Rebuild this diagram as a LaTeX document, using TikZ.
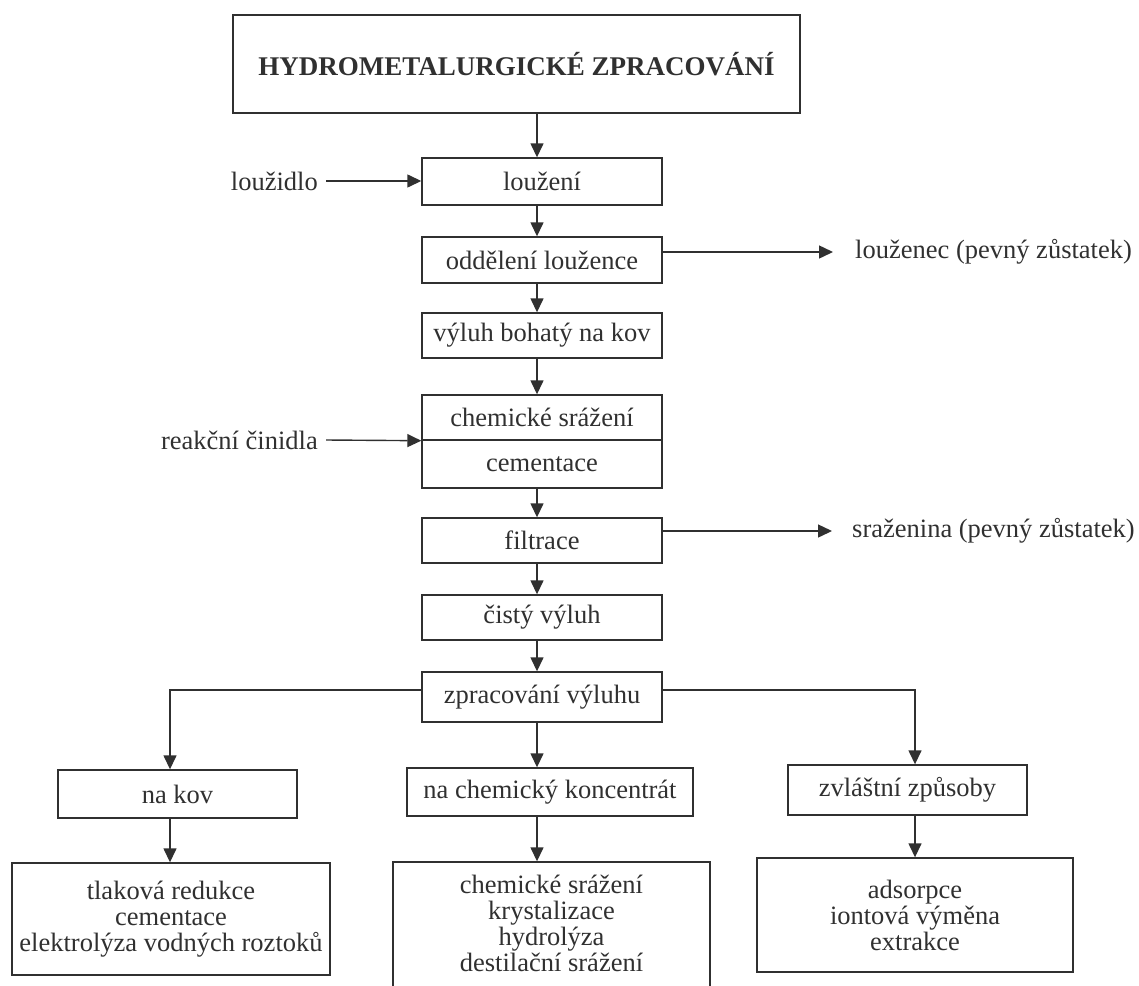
\documentclass[tikz,border=0pt]{standalone}
\usepackage{fontspec}
\setmainfont{Liberation Serif}
\usetikzlibrary{arrows.meta}
\definecolor{ink}{RGB}{48,48,48}
\begin{document}
\begin{tikzpicture}[x=1pt,y=-1pt,
  font=\fontsize{26.5}{26}\selectfont,
  box/.style={draw=ink, line width=1.4pt, inner sep=0pt, text=ink, align=center},
  lbl/.style={inner sep=0pt, text=ink},
  flow/.style={draw=ink, line width=1.4pt},
  arr/.style={flow, -{Triangle[width=13pt,length=14pt]}}]
\useasboundingbox (0,0) rectangle (1139,985);

% main column
\coordinate (spine) at (537,0);
\node[box, minimum width=567, minimum height=98, font=\fontsize{27}{30}\selectfont\bfseries]
  (title) at (516.5,64) {HYDROMETALURGICKÉ ZPRACOVÁNÍ};
\node[box, minimum width=240, minimum height=47] (louz)   at (542,181.5) {loužení};
\node[box, minimum width=240, minimum height=46] (odd)    at (542,260)   {oddělení loužence};
\node[box, minimum width=240, minimum height=45] (vyluh)  at (542,335.5) {výluh bohatý na kov};
\node[box, minimum width=240, minimum height=45] (chemA)  at (542,417.5) {chemické srážení};
\node[box, minimum width=240, minimum height=48] (chemB)  at (542,464)   {cementace};
\node[box, minimum width=240, minimum height=45] (filtr)  at (542,540.5) {filtrace};
\node[box, minimum width=240, minimum height=45] (cisty)  at (542,617.5) {čistý výluh};
\node[box, minimum width=240, minimum height=50] (zprac)  at (542,697)   {zpracování výluhu};

% side inputs and outputs
\node[lbl, anchor=east] (louzidlo) at (318,181) {loužidlo};
\node[lbl, anchor=east] (cinidla)  at (318,440) {reakční činidla};
\node[lbl, anchor=west] (louzenec) at (855,252) {louženec (pevný zůstatek)};
\node[lbl, anchor=west] (srazenina) at (852,531) {sraženina (pevný zůstatek)};

% three branches
\node[box, minimum width=239, minimum height=48] (nakov)  at (177.5,794) {na kov};
\node[box, minimum width=286, minimum height=48] (nachem) at (550,792)   {na chemický koncentrát};
\node[box, minimum width=239, minimum height=50] (zvl)    at (907.5,790) {zvláštní způsoby};

\node[box, minimum width=318, minimum height=112] (metody1) at (171,919)
  {tlaková redukce\\cementace\\elektrolýza vodných roztoků};
\node[box, minimum width=317, minimum height=140] (metody2) at (551.5,932) {};
\node[lbl, align=center] (metody2t) at (551.5,923)
  {chemické srážení\\krystalizace\\hydrolýza\\destilační srážení};
\node[box, minimum width=316, minimum height=114] (metody3) at (915,915)
  {adsorpce\\iontová výměna\\extrakce};

% connectors of the main column
\draw[arr] (title.south -| spine) -- (louz.north -| spine);
\draw[arr] (louz.south -| spine)  -- (odd.north -| spine);
\draw[arr] (odd.south -| spine)   -- (vyluh.north -| spine);
\draw[arr] (vyluh.south -| spine) -- (chemA.north -| spine);
\draw[arr] (chemB.south -| spine) -- (filtr.north -| spine);
\draw[arr] (filtr.south -| spine) -- (cisty.north -| spine);
\draw[arr] (cisty.south -| spine) -- (zprac.north -| spine);

\draw[arr] ([xshift=8pt]louzidlo.east) -- (louz.west |- louzidlo.east);
\draw[arr] ([xshift=8pt]cinidla.east)  -- (chemA.south west);
\draw[arr] (odd.east |- louzenec.west)  -- ([xshift=-22pt]louzenec.west);
\draw[arr] (filtr.east |- srazenina.west) -- ([xshift=-20pt]srazenina.west);

% branching below
\coordinate (lbr) at (170,690);
\coordinate (rbr) at (915,690);
\draw[arr] (zprac.west |- lbr) -- (lbr) -- (nakov.north -| lbr);
\draw[arr] (zprac.east |- rbr) -- (rbr) -- (zvl.north -| rbr);
\draw[arr] (zprac.south -| spine) -- (nachem.north -| spine);

\draw[arr] (nakov.south -| lbr)    -- (metody1.north -| lbr);
\draw[arr] (nachem.south -| spine) -- (metody2.north -| spine);
\draw[arr] (zvl.south -| rbr)      -- (metody3.north -| rbr);
\end{tikzpicture}
\end{document}
